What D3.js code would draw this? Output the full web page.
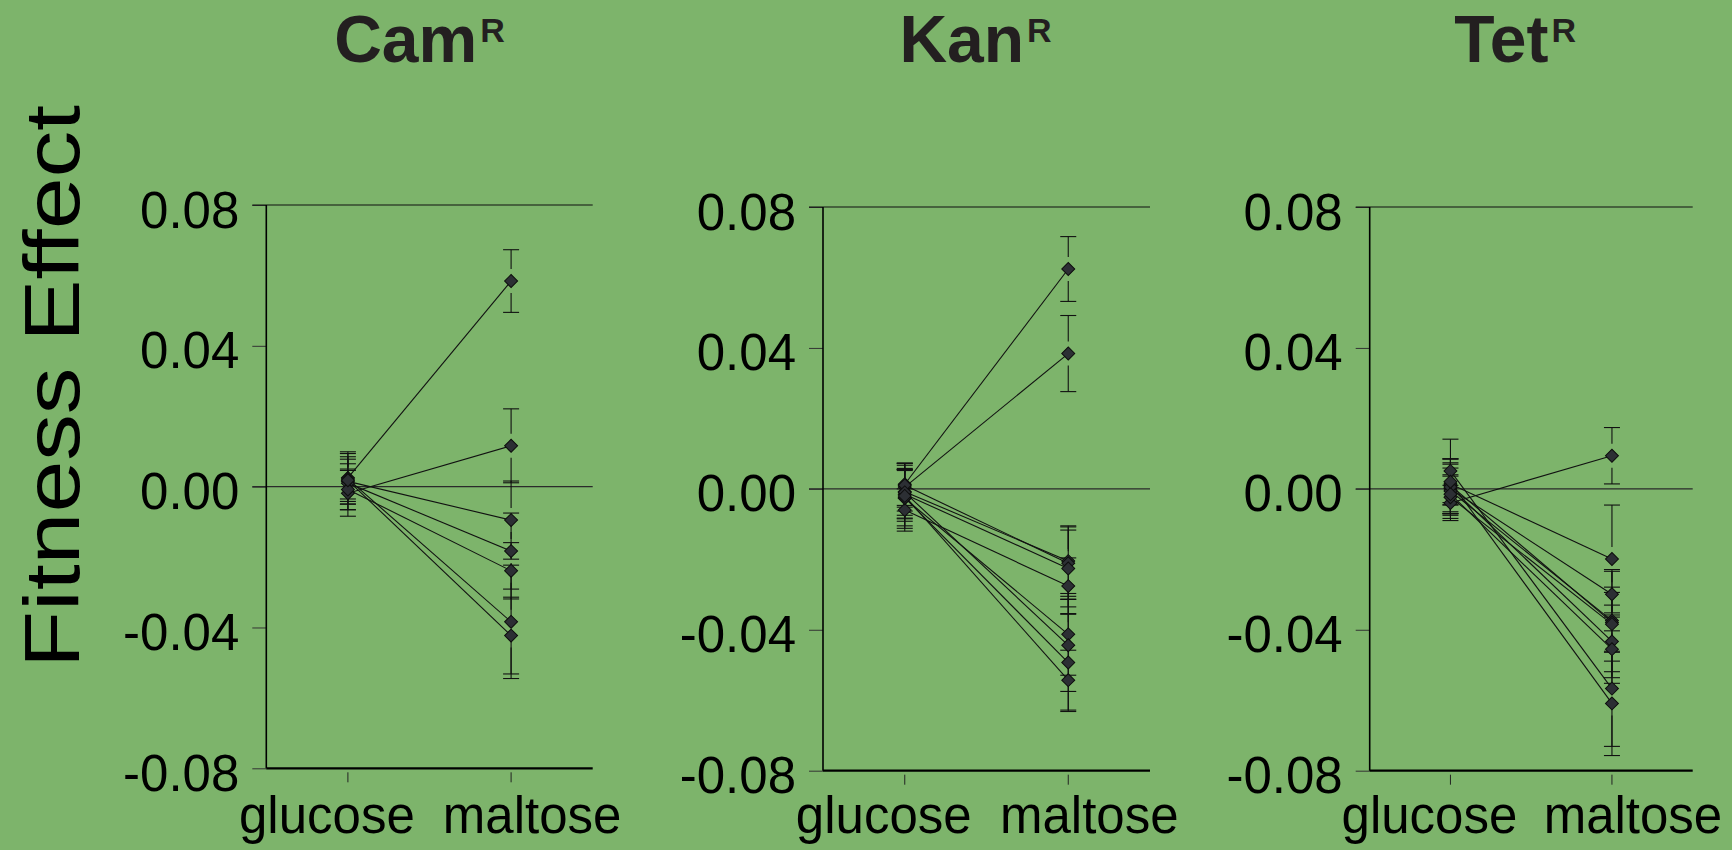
<!DOCTYPE html>
<html><head><meta charset="utf-8">
<script src="https://cdn.jsdelivr.net/npm/d3@7"></script>
<style>html,body{margin:0;padding:0;background:#7db46b;} svg{display:block;}</style>
</head><body>
<svg id="chart" width="1732" height="850"></svg>
<script>
// ---------- data ----------
const panelNames = ["Cam", "Kan", "Tet"];
const panelSup = "R";
const conditions = ["glucose", "maltose"];
const yTickValues = [-0.08, -0.04, 0, 0.04, 0.08];
const yTitle = "Fitness Effect";

const camGlucose    = [0.0025, -0.0019, 0.0015, 0.0010, -0.0008, 0.0022, 0.0018];
const camGlucoseErr = [0.0074, 0.0065, 0.0050, 0.0075, 0.0058, 0.0072, 0.0060];
const camMaltose    = [0.0584, 0.0116, -0.0095, -0.0183, -0.0239, -0.0384, -0.0423];
const camMaltoseErr = [0.0089, 0.0105, 0.0111, 0.0108, 0.0080, 0.0161, 0.0109];

const kanGlucose    = [0.0013, 0.0005, -0.0008, 0.0010, -0.0015, -0.0060, -0.0027, -0.0010, -0.0025, -0.0020];
const kanGlucoseErr = [0.0060, 0.0068, 0.0075, 0.0062, 0.0070, 0.0060, 0.0085, 0.0065, 0.0080, 0.0072];
const kanMaltose    = [0.0624, 0.0384, -0.0205, -0.0211, -0.0226, -0.0276, -0.0413, -0.0444, -0.0493, -0.0543];
const kanMaltoseErr = [0.0092, 0.0108, 0.0100, 0.0103, 0.0109, 0.0080, 0.0116, 0.0131, 0.0139, 0.0085];

const tetGlucose    = [-0.0040, 0.0014, 0.0000, -0.0006, 0.0010, -0.0024, 0.0005, -0.0015, 0.0051, 0.0020];
const tetGlucoseErr = [0.0050, 0.0060, 0.0070, 0.0065, 0.0075, 0.0060, 0.0080, 0.0055, 0.0090, 0.0065];
const tetMaltose    = [0.0094, -0.0199, -0.0299, -0.0374, -0.0379, -0.0384, -0.0433, -0.0455, -0.0567, -0.0609];
const tetMaltoseErr = [0.0080, 0.0153, 0.0065, 0.0145, 0.0085, 0.0105, 0.0103, 0.0097, 0.0164, 0.0148];

// ---------- layout ----------
const layout = [
  {left: 266.3, right: 592.7, top: 205, bottom: 768.3, titleShift: -10},
  {left: 823,   right: 1150,  top: 207, bottom: 770.7, titleShift: -11},
  {left: 1369.7,right: 1692.7,top: 207, bottom: 770.7, titleShift: -16}
];
const series = [
  {g: camGlucose, ge: camGlucoseErr, m: camMaltose, me: camMaltoseErr},
  {g: kanGlucose, ge: kanGlucoseErr, m: kanMaltose, me: kanMaltoseErr},
  {g: tetGlucose, ge: tetGlucoseErr, m: tetMaltose, me: tetMaltoseErr}
];
const FONT = "'Liberation Sans', Arial, Helvetica, sans-serif";
const svg = d3.select("#chart");

// y title
svg.append("text")
  .attr("transform", "translate(78.5,386.5) rotate(-90)")
  .attr("text-anchor", "middle")
  .attr("font-family", FONT).attr("font-size", 77)
  .attr("textLength", 563).attr("lengthAdjust", "spacingAndGlyphs")
  .attr("fill", "#000")
  .text(yTitle);

const diamond = d3.symbol(d3.symbolSquare, 84)();

panelNames.forEach((name, pi) => {
  const L = layout[pi];
  const S = series[pi];
  const x = d3.scalePoint().domain(conditions).range([L.left, L.right]).padding(0.5);
  const y = d3.scaleLinear().domain([-0.08, 0.08]).range([L.bottom, L.top]);
  const g = svg.append("g");

  // title
  const t = g.append("text")
    .attr("x", (L.left + L.right) / 2 + L.titleShift).attr("y", 62)
    .attr("text-anchor", "middle")
    .attr("font-family", FONT).attr("font-weight", "bold")
    .attr("font-size", 66).attr("fill", "#231f20");
  t.append("tspan").text(name);
  t.append("tspan").attr("font-size", 34).attr("dy", -20).attr("dx", 3).text(panelSup);

  // left axis ticks + labels
  const ax = d3.axisLeft(y).tickValues(yTickValues)
    .tickFormat(d => d.toFixed(2)).tickSize(14).tickPadding(13);
  const axG = g.append("g").attr("transform", `translate(${L.left},0)`).call(ax);
  axG.select(".domain").remove();
  axG.selectAll(".tick line").attr("stroke", "#333").attr("stroke-width", 1);
  axG.selectAll(".tick text")
    .attr("font-family", FONT).attr("font-size", 51).attr("fill", "#000")
    .attr("dy", 22);

  // reference lines at top and zero
  [0.08, 0].forEach(v => {
    g.append("line")
      .attr("x1", L.left - 14).attr("x2", L.right)
      .attr("y1", y(v)).attr("y2", y(v))
      .attr("stroke", v === 0 ? "#2a2a2a" : "#111").attr("stroke-width", v === 0 ? 1.3 : 1.1);
  });
  // left axis line
  g.append("line").attr("x1", L.left).attr("x2", L.left)
    .attr("y1", y(0.08)).attr("y2", y(-0.08))
    .attr("stroke", "#000").attr("stroke-width", 1.6);
  // bottom axis line
  g.append("line").attr("x1", L.left).attr("x2", L.right)
    .attr("y1", y(-0.08)).attr("y2", y(-0.08))
    .attr("stroke", "#000").attr("stroke-width", 2.2);

  // bottom ticks + labels
  const labelShift = {glucose: -21, maltose: 21};
  conditions.forEach(c => {
    g.append("line").attr("x1", x(c)).attr("x2", x(c))
      .attr("y1", y(-0.08) + 4).attr("y2", y(-0.08) + 14)
      .attr("stroke", "#222").attr("stroke-width", 1);
    g.append("text").attr("x", x(c) + labelShift[c]).attr("y", 833)
      .attr("text-anchor", "middle")
      .attr("font-family", FONT).attr("font-size", 51).attr("fill", "#000")
      .text(c);
  });

  const rows = S.g.map((gv, i) => ({
    glucose: gv, glucoseErr: S.ge[i], maltose: S.m[i], maltoseErr: S.me[i]
  }));

  // error bars (with small gap around the marker)
  const GAP = 12, CAP = 8;
  rows.forEach(r => {
    conditions.forEach(c => {
      const v = r[c], e = r[c + "Err"];
      const cx = x(c), yc = y(v), yt = y(v + e), yb = y(v - e);
      const eb = g.append("g").attr("stroke", "#111").attr("stroke-width", 1.1);
      if (yc - GAP > yt) eb.append("line").attr("x1", cx).attr("x2", cx).attr("y1", yt).attr("y2", yc - GAP);
      if (yc + GAP < yb) eb.append("line").attr("x1", cx).attr("x2", cx).attr("y1", yc + GAP).attr("y2", yb);
      eb.append("line").attr("x1", cx - CAP).attr("x2", cx + CAP).attr("y1", yt).attr("y2", yt);
      eb.append("line").attr("x1", cx - CAP).attr("x2", cx + CAP).attr("y1", yb).attr("y2", yb);
    });
  });

  // connecting lines
  const line = d3.line().x(d => x(d.c)).y(d => y(d.v));
  rows.forEach(r => {
    g.append("path")
      .attr("d", line(conditions.map(c => ({c, v: r[c]}))))
      .attr("fill", "none").attr("stroke", "#111").attr("stroke-width", 1.1);
  });

  // markers
  rows.forEach(r => {
    conditions.forEach(c => {
      g.append("path").attr("d", diamond)
        .attr("transform", `translate(${x(c)},${y(r[c])}) rotate(45)`)
        .attr("fill", "#2c2f34").attr("stroke", "#0d0d0d").attr("stroke-width", 1);
    });
  });
});
</script>
</body></html>
